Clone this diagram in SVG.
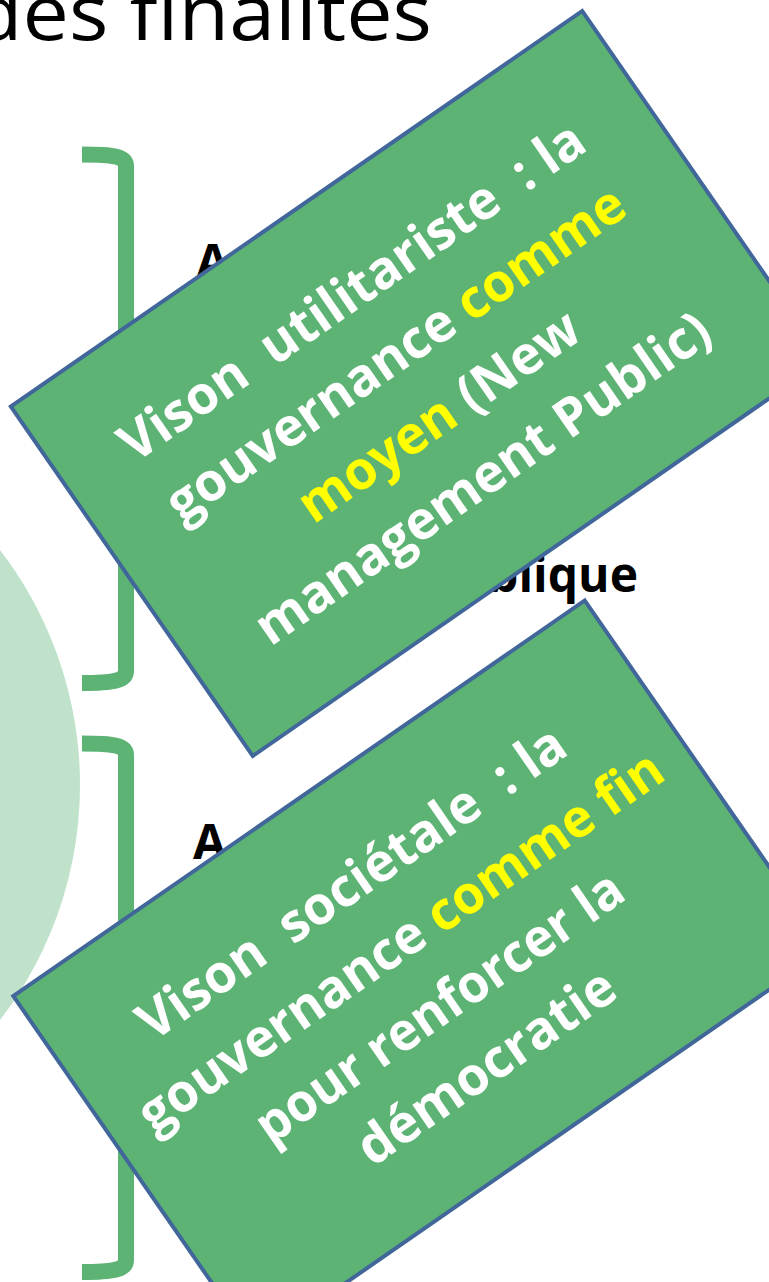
<svg xmlns="http://www.w3.org/2000/svg" width="769" height="1282" viewBox="0 0 769 1282">
<style>
.bracket{fill:none;stroke:#5cb374;stroke-width:16;stroke-linecap:butt}
.box{fill:#5cb374;stroke:#41679a;stroke-width:4}
.bt{font-family:"Open Sans","Liberation Sans",sans-serif;font-weight:700;font-size:53px;fill:#ffffff}
.hl{fill:#ffff00}
.blk{font-family:"Open Sans","Liberation Sans",sans-serif;font-weight:700;font-size:48px;fill:#000000}
.title{font-family:"Open Sans","Liberation Sans",sans-serif;font-weight:400;font-size:76px;fill:#000000}
</style>
<rect x="0" y="0" width="769" height="1282" fill="#ffffff"/>
<g id="circle"><circle cx="-305" cy="785" r="385" fill="#c0e2cb"/></g>
<g id="title"><text class="title" x="-28" y="40" textLength="460" lengthAdjust="spacingAndGlyphs">des finalités</text></g>
<g id="bracket1"><path class="bracket" d="M82 154.5 C112 154.5 126 156 126 166 L126 671 C126 681 112 683 82 683"/></g>
<g id="bracket2"><path class="bracket" d="M82 743.5 C112 743.5 126 745 126 755 L126 1260 C126 1270 112 1272 82 1272"/></g>
<g id="label1">
<text class="blk" x="196" y="279">A</text>
<text class="blk" x="638" y="592" text-anchor="end" font-size="50">publique</text>
</g>
<g id="label2"><text class="blk" x="193" y="859">A</text></g>
<g id="box1" transform="translate(417.5 383.5) rotate(-34.7)">
<rect class="box" x="-347.5" y="-212.5" width="695" height="425"/>
<text class="bt" xml:space="preserve" x="-278" y="-95" textLength="553" lengthAdjust="spacingAndGlyphs">Vison  utilitariste  : la</text>
<text class="bt" x="-274" y="-19" textLength="546" lengthAdjust="spacingAndGlyphs">gouvernance <tspan class="hl">comme</tspan></text>
<text class="bt" x="-166" y="57" textLength="330" lengthAdjust="spacingAndGlyphs"><tspan class="hl">moyen</tspan> (New</text>
<text class="bt" x="-271" y="133" textLength="541" lengthAdjust="spacingAndGlyphs">management Public)</text>
</g>
<g id="box2" transform="translate(420 973) rotate(-34.7)">
<rect class="box" x="-347.5" y="-212.5" width="695" height="425"/>
<text class="bt" xml:space="preserve" x="-259" y="-95" textLength="508" lengthAdjust="spacingAndGlyphs">Vison  sociétale  : la</text>
<text class="bt" x="-311" y="-19" textLength="626" lengthAdjust="spacingAndGlyphs">gouvernance <tspan class="hl">comme fin</tspan></text>
<text class="bt" x="-221" y="57" textLength="435" lengthAdjust="spacingAndGlyphs">pour renforcer la</text>
<text class="bt" x="-150" y="133" textLength="302" lengthAdjust="spacingAndGlyphs">démocratie</text>
</g>
</svg>
